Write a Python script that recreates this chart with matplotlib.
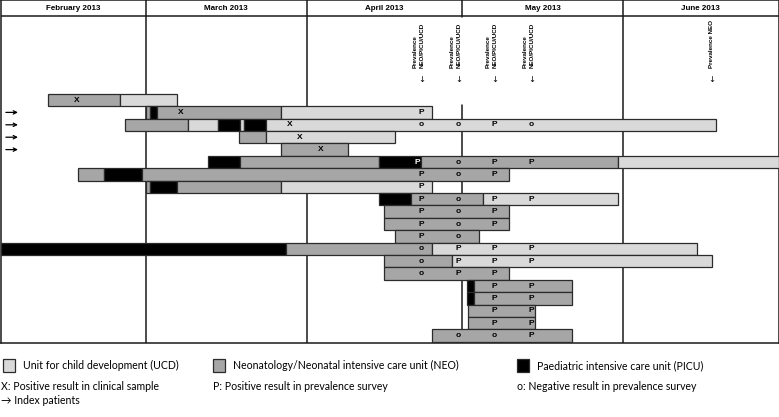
import matplotlib
matplotlib.use("Agg")
import matplotlib.pyplot as plt
from matplotlib.patches import Rectangle

# days counted from 1 February 2013
month_starts = [0, 28, 59, 89, 120, 150]
month_labels = ["February 2013", "March 2013", "April 2013", "May 2013", "June 2013"]

# stay of each patient: segment edges (days) and unit of each segment
# U = unit for child development, N = neonatology, I = paediatric ICU
row_edges = [
    [9.1, 23.1, 34.1],
    [28.0, 28.9, 30.2, 54.1, 83.1],
    [24.0, 36.1, 42.0, 46.1, 47.0, 51.1, 138.0],
    [45.9, 51.1, 76.0],
    [54.1, 67.0],
    [40.0, 46.1, 72.9, 81.1, 119.0, 150.0],
    [15.0, 20.0, 27.2, 98.0],
    [28.0, 28.9, 34.1, 54.1, 83.1],
    [72.9, 79.2, 93.1, 119.0],
    [74.0, 98.0],
    [74.0, 98.0],
    [76.0, 92.2],
    [0.0, 55.1, 83.1, 134.2],
    [74.0, 87.1, 137.1],
    [74.0, 98.0],
    [90.0, 91.2, 110.1],
    [90.0, 91.2, 110.1],
    [90.2, 103.0],
    [90.2, 103.0],
    [83.1, 110.1],
]
row_units = ["NU", "NINU", "NUIUIU", "NU", "N", "ININU", "NIN", "NINU",
             "INU", "N", "N", "N", "INU", "NU", "N", "IN", "IN", "N", "N", "N"]

index_rows = [2, 3, 4, 5]

# clinical samples (X)
x_rows = [1, 2, 3, 4, 5]
x_days = [14.7, 34.7, 55.7, 57.7, 61.7]

# prevalence surveys, one character per survey day (P positive, o negative)
survey_days = [81.2, 88.3, 95.2, 102.4]
survey_neo_day = 137.1
survey_results = ["", "P", "ooPo", "", "", " oPP", "PoP", "P", "PoPP", "PoP",
                  "PoP", "Po", "oPPP", "oPPP", "oPP", "  PP", "  PP", "  PP", "  PP", " ooP"]
picu_p_row, picu_p_day = 6, 80.3

fills = {"U": "#d9d9d9", "N": "#a6a6a6", "I": "#000000"}
W, H = 779, 417


def px_row(py):
    # vertical pixel -> row coordinate (row 1 centred at 100 px, 12.4 px per row)
    return 1 + (py - 100) / 12.4


fig = plt.figure(figsize=(W / 100, H / 100), dpi=100)
ax = fig.add_axes([0.5 / W, 1 - 343 / H, 778 / W, 343 / H])
ax.set_xlim(month_starts[0], month_starts[-1])
ax.set_ylim(px_row(343), px_row(0))
ax.set_xticks([])
ax.set_yticks([])
for s in ax.spines.values():
    s.set_linewidth(1.1)
    s.set_color("#1a1a1a")

chart_font = "Liberation Sans"

# header with months
ax.axhline(px_row(16), color="#1a1a1a", lw=1.1, zorder=1)
for m in range(len(month_labels)):
    mid = (month_starts[m] + month_starts[m + 1]) / 2
    ax.text(mid, px_row(9), month_labels[m], ha="center", va="center",
            fontsize=5.8, fontweight="bold", family=chart_font)
for d in month_starts[1:-1]:
    ax.axvline(d, color="#1a1a1a", lw=1.1, zorder=1)
# the may line is broken where the survey labels stand
ax.vlines(month_starts[3], px_row(16.8), px_row(104), color="white", lw=2.5, zorder=2)

# survey labels
for d in survey_days:
    ax.annotate("Prevalence\nNEO/PICU/UCD", xy=(d, px_row(68)), xytext=(-2.2, 0),
                textcoords="offset points", rotation=90, ha="center", va="bottom",
                fontsize=4.5, fontweight="bold", linespacing=1.5,
                multialignment="left", family=chart_font)
    ax.text(d, px_row(80), "↓", ha="center", va="center", fontsize=6)
ax.text(survey_neo_day, px_row(68), "Prevalence NEO", rotation=90, ha="center",
        va="bottom", fontsize=4.5, fontweight="bold", family=chart_font)
ax.text(survey_neo_day, px_row(80), "↓", ha="center", va="center", fontsize=6)

# stays
for i, (edges, units) in enumerate(zip(row_edges, row_units), start=1):
    for k, code in enumerate(units):
        ax.barh(i, edges[k + 1] - edges[k], left=edges[k], height=1.0,
                color=fills[code], edgecolor="#2b2b2b", linewidth=0.9, zorder=3)

mark_kw = dict(ha="center", va="center", fontsize=6, fontweight="bold",
               family=chart_font, zorder=5)
for r, d in zip(x_rows, x_days):
    ax.text(d, r, "X", **mark_kw)
for i, res in enumerate(survey_results, start=1):
    for k, sym in enumerate(res):
        if sym == " ":
            continue
        ax.text(survey_days[k], i, sym, **mark_kw)
ax.text(picu_p_day, picu_p_row, "P", color="white", **mark_kw)

for r in index_rows:
    ax.annotate("", xy=(3.9, r), xytext=(0.5, r),
                arrowprops=dict(arrowstyle="->", lw=0.9, color="black",
                                mutation_scale=6), zorder=5)

# legend below the chart
leg_font = "Lato"
legend_items = [("U", "Unit for child development (UCD)", 3),
                ("N", "Neonatology/Neonatal intensive care unit (NEO)", 213),
                ("I", "Paediatric intensive care unit (PICU)", 517)]
for code, label, x0 in legend_items:
    fig.patches.append(Rectangle((x0 / W, 1 - 372 / H), 12 / W, 13 / H,
                                 transform=fig.transFigure, facecolor=fills[code],
                                 edgecolor="#2b2b2b", lw=0.9))
    fig.text((x0 + 20) / W, 1 - 365.5 / H, label, ha="left", va="center",
             fontsize=7.6, family=leg_font)

symbol_notes = [("X: Positive result in clinical sample", 1),
                ("P: Positive result in prevalence survey", 213),
                ("o: Negative result in prevalence survey", 517)]
for label, x0 in symbol_notes:
    fig.text(x0 / W, 1 - 386.5 / H, label, ha="left", va="center", fontsize=7.6,
             family=leg_font)
fig.text(1 / W, 1 - 400 / H, "→ Index patients", ha="left", va="center",
         fontsize=7.6, family=[leg_font, "DejaVu Sans"])

fig.savefig("out.png", dpi=100, facecolor="white")
